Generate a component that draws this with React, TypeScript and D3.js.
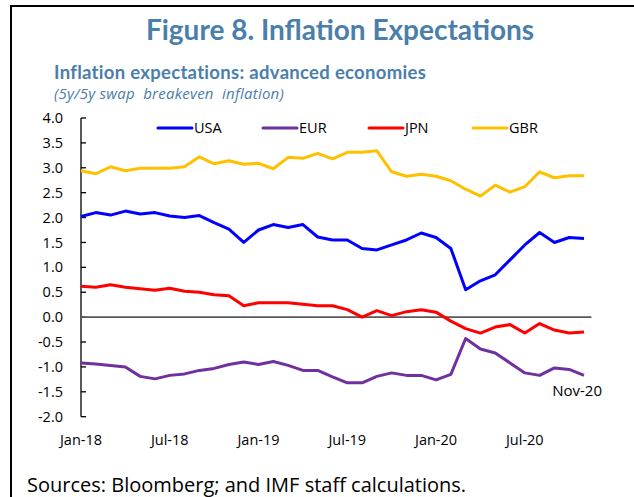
import React from "react";
import * as d3 from "d3";

const months: string[] = [
  "Jan-18","Feb-18","Mar-18","Apr-18","May-18","Jun-18","Jul-18","Aug-18","Sep-18","Oct-18","Nov-18","Dec-18",
  "Jan-19","Feb-19","Mar-19","Apr-19","May-19","Jun-19","Jul-19","Aug-19","Sep-19","Oct-19","Nov-19","Dec-19",
  "Jan-20","Feb-20","Mar-20","Apr-20","May-20","Jun-20","Jul-20","Aug-20","Sep-20","Oct-20","Nov-20",
];

const usa: number[] = [
  2.02, 2.1, 2.05, 2.13, 2.07, 2.1, 2.03, 2.0, 2.04, 1.9, 1.77, 1.5,
  1.75, 1.86, 1.8, 1.86, 1.61, 1.55, 1.55, 1.38, 1.35, 1.45, 1.55, 1.69,
  1.6, 1.38, 0.55, 0.73, 0.85, 1.15, 1.45, 1.7, 1.5, 1.6, 1.58,
];
const eur: number[] = [
  -0.92, -0.94, -0.97, -1.0, -1.19, -1.24, -1.17, -1.14, -1.07, -1.03, -0.95, -0.9,
  -0.95, -0.89, -0.97, -1.07, -1.07, -1.2, -1.32, -1.32, -1.19, -1.12, -1.17, -1.17,
  -1.26, -1.15, -0.43, -0.64, -0.72, -0.92, -1.12, -1.17, -1.02, -1.05, -1.17,
];
const jpn: number[] = [
  0.62, 0.6, 0.65, 0.6, 0.57, 0.54, 0.58, 0.52, 0.5, 0.45, 0.43, 0.23,
  0.29, 0.29, 0.29, 0.26, 0.23, 0.23, 0.15, 0.0, 0.13, 0.03, 0.11, 0.15,
  0.1, -0.08, -0.23, -0.32, -0.2, -0.15, -0.32, -0.13, -0.26, -0.32, -0.3,
];
const gbr: number[] = [
  2.94, 2.88, 3.02, 2.94, 2.99, 2.99, 2.99, 3.02, 3.22, 3.08, 3.14, 3.07,
  3.09, 2.98, 3.21, 3.19, 3.29, 3.18, 3.31, 3.31, 3.34, 2.92, 2.83, 2.87,
  2.83, 2.74, 2.57, 2.43, 2.65, 2.51, 2.62, 2.92, 2.8, 2.84, 2.84,
];

const seriesNames: string[] = ["USA", "EUR", "JPN", "GBR"];
const seriesColors: string[] = ["#0000ff", "#7030a0", "#ff0000", "#ffc000"];
const seriesData: number[][] = [usa, eur, jpn, gbr];
const yTicks: number[] = [4.0, 3.5, 3.0, 2.5, 2.0, 1.5, 1.0, 0.5, 0.0, -0.5, -1.0, -1.5, -2.0];
const xTickIdx: number[] = [0, 6, 12, 18, 24, 30];

const W = 634;
const H = 497;
const FONT = "'Open Sans', 'Noto Sans', sans-serif";
const TITLE_FONT = "'Lato', 'Open Sans', sans-serif";
const BLUE = "#4a7eab";

export default function App() {
  const x = d3.scaleLinear().domain([0, months.length - 1]).range([81, 584]);
  const y = d3.scaleLinear().domain([-2, 4]).range([416.7, 118]);
  const line = d3
    .line<number>()
    .x((_, i) => x(i))
    .y((d) => y(d))
    .curve(d3.curveLinear);

  const legendX = [158, 263, 369, 473];

  return (
    <svg
      width={W}
      height={H}
      style={{ position: "absolute", left: 0, top: 0, background: "#fff" }}
      fontFamily={FONT}
    >
      <rect x={0} y={0} width={W} height={H} fill="#fff" />
      {/* frame */}
      <line x1={10} x2={W} y1={6} y2={6} stroke="#000" strokeWidth={2} />
      <line x1={11} x2={11} y1={5} y2={H} stroke="#000" strokeWidth={2} />

      {/* titles */}
      <text x={340} y={40} textAnchor="middle" fontSize={28} fontWeight="bold" fill={BLUE}
        fontFamily={TITLE_FONT}>
        Figure 8. Inflation Expectations
      </text>
      <text x={54} y={79} fontSize={18.5} letterSpacing={0.3} fontWeight="bold" fill={BLUE}
        fontFamily={TITLE_FONT}>
        Inflation expectations: advanced economies
      </text>
      <text x={54} y={99} fontSize={15} letterSpacing={0.25} fontStyle="italic" fill={BLUE}
        fontFamily={FONT} style={{ whiteSpace: "pre" }}>
        {"(5y/5y swap  breakeven  inflation)"}
      </text>

      {/* y axis */}
      <line x1={81} x2={81} y1={y(4)} y2={y(-2)} stroke="#000" strokeWidth={1.3} />
      {yTicks.map((t) => (
        <g key={t}>
          <line x1={81} x2={86} y1={y(t)} y2={y(t)} stroke="#000" strokeWidth={1.3} />
          <text x={63} y={y(t)} dy="0.35em" textAnchor="end" fontSize={14.5} fill="#000">
            {t.toFixed(1)}
          </text>
        </g>
      ))}

      {/* zero line */}
      <line x1={81} x2={x(months.length - 0.5)} y1={y(0)} y2={y(0)} stroke="#595959" strokeWidth={1.8} />

      {/* x labels */}
      {xTickIdx.map((i) => (
        <text key={i} x={x(i)} y={440} dy="0.35em" textAnchor="middle" fontSize={14.5} fill="#000">
          {months[i]}
        </text>
      ))}

      {/* series */}
      {seriesData.map((d, k) => (
        <path key={seriesNames[k]} d={line(d) || ""} fill="none" stroke={seriesColors[k]}
          strokeWidth={3} strokeLinejoin="round" />
      ))}

      {/* end label */}
      <text x={602} y={391} dy="0.35em" textAnchor="end" fontSize={15} fill="#000">
        {months[months.length - 1]}
      </text>

      {/* legend */}
      {seriesNames.map((n, k) => (
        <g key={n}>
          <line x1={legendX[k]} x2={legendX[k] + 34} y1={128} y2={128} stroke={seriesColors[k]}
            strokeWidth={3} strokeLinecap="round" />
          <text x={legendX[k] + 36} y={128} dy="0.35em" fontSize={14.5} fill="#000">
            {n}
          </text>
        </g>
      ))}

      {/* source */}
      <text x={27} y={492} fontSize={20} fill="#000">
        Sources: Bloomberg; and IMF staff calculations.
      </text>
    </svg>
  );
}
